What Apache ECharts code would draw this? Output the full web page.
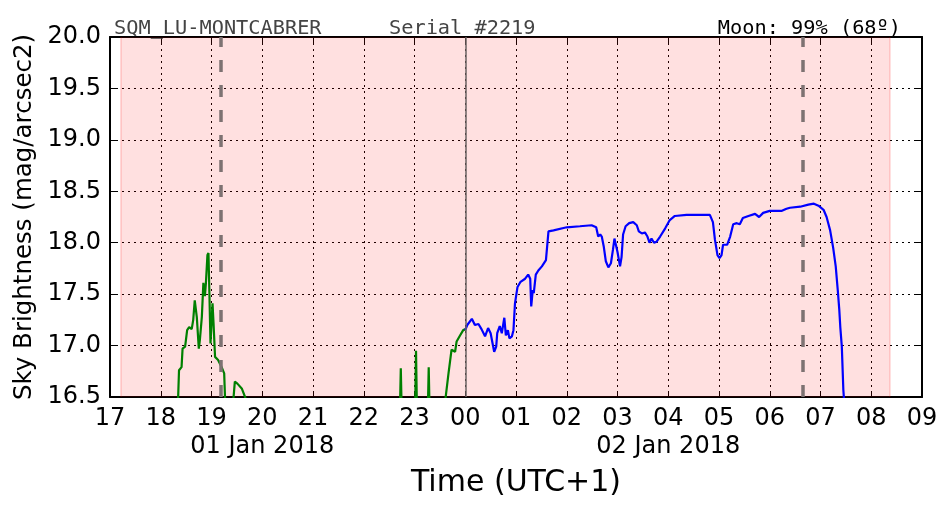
<!DOCTYPE html>
<html><head><meta charset="utf-8">
<script src="https://cdn.jsdelivr.net/npm/echarts@6/dist/echarts.min.js"></script>
<style>html,body{margin:0;padding:0;background:#fff}#c{width:952px;height:512px}</style>
</head><body><div id="c"></div>
<script>
// hours since 00:00 on 01 Jan 2018 (24 = 00:00 on 02 Jan)
const hourTicks = [17,18,19,20,21,22,23,24,25,26,27,28,29,30,31,32,33];
const dateLabels = {20: '01 Jan 2018', 28: '02 Jan 2018'};
const yTicks = [16.5, 17.0, 17.5, 18.0, 18.5, 19.0, 19.5, 20.0];

const eveningTime = [18.33,18.36,18.41,18.43,18.48,18.52,18.56,18.61,18.64,18.67,18.71,18.75,18.77,18.81,18.84,18.87,18.89,18.92,18.94,18.96,18.98,19.02,19.04,19.07,19.13,19.20,19.25,19.28,null,
  19.41,19.46,19.51,19.60,19.70,null,
  22.71,22.73,22.75,null,23.01,23.03,23.05,null,23.26,23.28,23.30,null,
  23.59,23.67,23.73,23.76,23.80,23.83,23.90,23.96,24.01];
const eveningMag = [16.30,16.76,16.79,16.97,16.99,17.15,17.18,17.16,17.25,17.44,17.28,16.97,17.05,17.28,17.61,17.48,17.61,17.88,17.90,17.48,17.02,17.41,17.22,16.89,16.86,16.79,16.73,16.30,null,
  16.35,16.65,16.63,16.58,16.45,null,
  16.30,16.78,16.30,null,16.30,16.95,16.30,null,16.30,16.79,16.30,null,
  16.40,16.73,16.96,16.97,16.94,17.04,17.10,17.15,17.16];

const nightTime = [24.00,24.04,24.13,24.19,24.26,24.32,24.39,24.45,24.50,24.57,24.61,24.63,24.68,24.72,24.77,24.80,24.84,24.87,24.92,24.95,24.98,25.03,25.09,25.18,25.24,25.28,25.30,25.33,25.35,25.39,25.44,25.51,25.59,25.64,25.74,26.00,26.26,26.49,26.58,26.62,26.66,26.69,26.73,26.77,26.82,26.87,26.91,26.94,26.97,27.00,27.05,27.08,27.11,27.16,27.23,27.31,27.38,27.42,27.48,27.54,27.59,27.63,27.67,27.72,27.77,27.84,27.94,28.03,28.13,28.36,28.76,28.82,28.88,28.92,28.97,29.01,29.05,29.08,29.16,29.22,29.28,29.35,29.41,29.47,29.58,29.71,29.79,29.87,30.00,30.24,30.33,30.40,30.60,30.76,30.87,30.96,31.06,31.12,31.19,31.25,31.30,31.34,31.37,31.39,31.42,31.45,31.46,31.47];
const nightMag = [17.15,17.20,17.26,17.20,17.21,17.16,17.09,17.17,17.12,16.94,16.99,17.12,17.19,17.12,17.27,17.10,17.15,17.07,17.09,17.15,17.41,17.57,17.62,17.65,17.69,17.65,17.38,17.54,17.51,17.69,17.73,17.77,17.83,18.11,18.12,18.15,18.16,18.17,18.15,18.06,18.08,18.06,17.96,17.82,17.76,17.80,17.93,18.04,18.03,17.91,17.77,17.86,18.08,18.16,18.19,18.20,18.17,18.11,18.09,18.10,18.06,18.00,18.04,18.00,18.01,18.06,18.14,18.22,18.26,18.27,18.27,18.27,18.20,18.03,17.88,17.85,17.88,17.98,17.98,18.06,18.18,18.19,18.18,18.24,18.26,18.28,18.25,18.29,18.31,18.31,18.33,18.34,18.35,18.37,18.38,18.36,18.32,18.25,18.12,17.95,17.77,17.54,17.35,17.18,16.99,16.57,16.50,16.30];

const nightSpan = [17.21, 32.37];     // shaded night period
const moonMarks = [19.18, 30.66];     // dashed moon lines
const midnight = [24.00];

const titleLeft = 'SQM_LU-MONTCABRER';
const titleMid = 'Serial #2219';
const titleRight = 'Moon: 99% (68º)';

function zip(a, b){ return a.map((t,i)=> t===null ? [null,null] : [t,b[i]]); }
const pad = v => String(Math.round(v) % 24).padStart(2,'0');

const F = 'DejaVu Sans';
const M = 'DejaVu Sans Mono';
const chart = echarts.init(document.getElementById('c'), null, {renderer:'canvas'});
chart.setOption({
  animation:false,
  backgroundColor:'#fff',
  title:[
    {text:titleLeft, left:109, top:14, textStyle:{fontFamily:M, fontSize:20.3, fontWeight:'normal', color:'#444'}},
    {text:titleMid, left:384, top:14, textStyle:{fontFamily:M, fontSize:20.3, fontWeight:'normal', color:'#444'}},
    {text:titleRight, right:46, top:14, textStyle:{fontFamily:M, fontSize:20.3, fontWeight:'normal', color:'#000'}}
  ],
  grid:{left:110, right:30, top:37, bottom:115},
  xAxis:[
    {type:'value', min:hourTicks[0], max:hourTicks[hourTicks.length-1], interval:1, position:'bottom',
     name:'Time (UTC+1)', nameLocation:'middle', nameGap:71,
     nameTextStyle:{fontFamily:F, fontSize:30, color:'#000'},
     axisLine:{show:true, onZero:false, lineStyle:{color:'#000', width:2}},
     axisTick:{show:true, inside:true, length:6, lineStyle:{color:'#000', width:1}},
     axisLabel:{fontFamily:F, fontSize:24, color:'#000', margin:10, formatter:v=>pad(v)},
     splitLine:{show:true, lineStyle:{color:'#000', width:1, type:[2,4]}}},
    {type:'value', min:hourTicks[0], max:hourTicks[hourTicks.length-1], interval:1, position:'top',
     axisLine:{show:true, onZero:false, lineStyle:{color:'#000', width:2}},
     axisTick:{show:true, inside:true, length:6, lineStyle:{color:'#000', width:1}},
     axisLabel:{show:false}, splitLine:{show:false}},
    {type:'value', min:hourTicks[0], max:hourTicks[hourTicks.length-1], interval:1, position:'bottom',
     axisLine:{show:false}, axisTick:{show:false}, splitLine:{show:false},
     axisLabel:{fontFamily:F, fontSize:24, color:'#000', margin:38, formatter:v=>dateLabels[Math.round(v)]||''}}
  ],
  yAxis:[
    {type:'value', min:yTicks[0], max:yTicks[yTicks.length-1], interval:0.5, position:'left',
     name:'Sky Brightness (mag/arcsec2)', nameLocation:'middle', nameGap:73, nameRotate:90,
     nameTextStyle:{fontFamily:F, fontSize:24.5, color:'#000'},
     axisLine:{show:true, onZero:false, lineStyle:{color:'#000', width:2}},
     axisTick:{show:true, inside:true, length:6, lineStyle:{color:'#000', width:1}},
     axisLabel:{fontFamily:F, fontSize:24, color:'#000', margin:9, formatter:v=>v.toFixed(1)},
     splitLine:{show:true, lineStyle:{color:'#000', width:1, type:[2,4]}}},
    {type:'value', min:yTicks[0], max:yTicks[yTicks.length-1], interval:0.5, position:'right',
     axisLine:{show:true, onZero:false, lineStyle:{color:'#000', width:2}},
     axisTick:{show:true, inside:true, length:6, lineStyle:{color:'#000', width:1}},
     axisLabel:{show:false}, splitLine:{show:false}}
  ],
  series:[
    {type:'line', name:'evening', xAxisIndex:0, yAxisIndex:0, data:zip(eveningTime, eveningMag),
     showSymbol:false, symbol:'none', connectNulls:false, clip:true,
     lineStyle:{color:'#008000', width:2.2}, z:3,
     markArea:{silent:true, itemStyle:{color:'rgba(255,0,0,0.12)', borderWidth:0},
       data:[[{xAxis:nightSpan[0]},{xAxis:nightSpan[1]}]]}
    },
    {type:'line', name:'night', xAxisIndex:0, yAxisIndex:0, data:zip(nightTime, nightMag),
     showSymbol:false, symbol:'none', connectNulls:false, clip:true,
     lineStyle:{color:'#0000ff', width:2.2}, z:3},
    {type:'line', name:'marks', xAxisIndex:0, yAxisIndex:0, data:[[nightSpan[0], null]],
     showSymbol:false, symbol:'none', z:4,
     markLine:{silent:true, symbol:['none','none'], label:{show:false},
       data:[
         ...nightSpan.map(x=>({xAxis:x, lineStyle:{color:'rgba(255,0,0,0.12)', width:2, type:'solid'}})),
         ...moonMarks.map(x=>({xAxis:x, lineStyle:{color:'#7d7272', width:3.5, type:[12,13]}})),
         ...midnight.map(x=>({xAxis:x, lineStyle:{color:'#6a6262', width:1.5, type:'solid'}}))
       ]}}
  ]
});
</script></body></html>
